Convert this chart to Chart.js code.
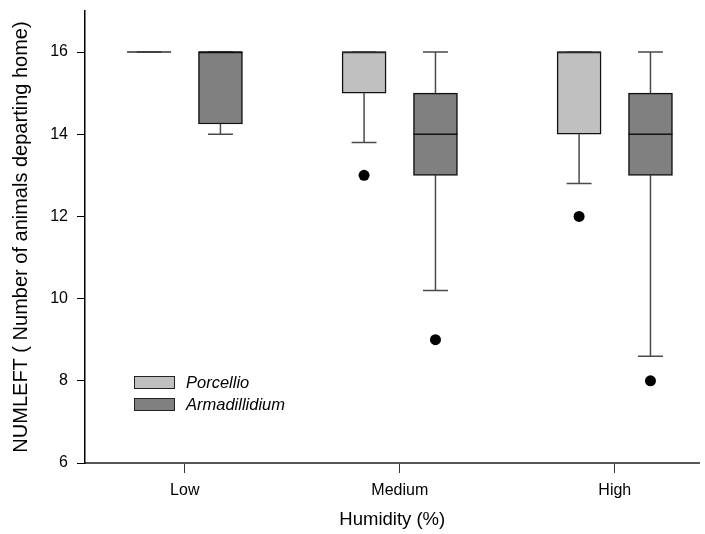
<!DOCTYPE html>
<html>
<head>
<meta charset="utf-8">
<script src="https://cdn.jsdelivr.net/npm/chart.js@4.4.1/dist/chart.umd.min.js"></script>
<style>
    html, body { margin: 0; padding: 0; background: #fff; overflow: hidden; }
    #wrap { width: 705px; height: 534px; position: relative; overflow: hidden; }
    #chart { display: block; }
</style>
</head>
<body>
<div id="wrap"><canvas id="chart"></canvas></div>
<script>
'use strict';

// humidity levels
const categories = ['Low', 'Medium', 'High'];

// Porcellio box stats
const porcMin = [16, 13.8, 12.8];
const porcQ1 = [16, 15, 14];
const porcMed = [16, 16, 16];
const porcQ3 = [16, 16, 16];
const porcMax = [16, 16, 16];
const porcOut = [[], [13], [12]];

// Armadillidium box stats
const armaMin = [14, 10.2, 8.6];
const armaQ1 = [14.25, 13, 13];
const armaMed = [16, 14, 14];
const armaQ3 = [16, 15, 15];
const armaMax = [16, 16, 16];
const armaOut = [[], [9], [8]];

const yTicks = [6, 8, 10, 12, 14, 16];

(function(){

    const SHIFT = 0.166;  // box centre offset from category
    const HALF = 0.1023;  // half box width (x units)
    const CAP = 0.058;    // half whisker cap width

    function centre(i, side) {
        return i + 1 + side * SHIFT;
    }

    function boxData(q1, q3, side) {
        return categories.map((c, i) => ({x: centre(i, side), y: [q1[i], q3[i]]}));
    }

    function whiskerData(lo, q1, q3, hi, side) {
        let pts = [];
        categories.forEach((c, i) => {
            let cx = centre(i, side);
            pts.push({x: cx, y: q3[i]}, {x: cx, y: hi[i]}, {x: cx, y: null});
            pts.push({x: cx - CAP, y: hi[i]}, {x: cx + CAP, y: hi[i]}, {x: cx, y: null});
            pts.push({x: cx, y: q1[i]}, {x: cx, y: lo[i]}, {x: cx, y: null});
            pts.push({x: cx - CAP, y: lo[i]}, {x: cx + CAP, y: lo[i]}, {x: cx, y: null});
        });
        return pts;
    }

    function medianData(med, side) {
        let pts = [];
        categories.forEach((c, i) => {
            let cx = centre(i, side);
            pts.push({x: cx - HALF, y: med[i]}, {x: cx + HALF, y: med[i]}, {x: cx, y: null});
        });
        return pts;
    }

    function outlierData(out, side) {
        let pts = [];
        out.forEach((list, i) => {
            for(let v of list) {
                pts.push({x: centre(i, side), y: v});
            }
        });
        return pts;
    }

    function boxSet(label, color, q1, q3, side) {
        return {
            type: 'bar', label: label, order: 1,
            data: boxData(q1, q3, side),
            backgroundColor: color, borderColor: '#111', borderWidth: 1.5,
            borderSkipped: false, grouped: false, barThickness: 44,
        };
    }

    function lineSet(data, color, width, order) {
        return {
            type: 'line', order: order, data: data,
            borderColor: color, borderWidth: width,
            pointRadius: 0, spanGaps: false, fill: false,
        };
    }

    function dotSet(data) {
        return {
            type: 'line', order: 0, data: data, showLine: false,
            pointRadius: 5.5, pointBackgroundColor: '#000', pointBorderWidth: 0,
        };
    }

    // legend drawn inside the plot, lower left
    const boxLegend = {
        id: 'boxLegend',
        afterDraw(chart) {
            let ctx = chart.ctx;
            let a = chart.chartArea;
            let items = chart.data.datasets.filter(d => d.type === 'bar');
            ctx.save();
            ctx.font = 'italic 16.5px "Liberation Sans", Arial, sans-serif';
            ctx.textBaseline = 'middle';
            items.forEach((d, k) => {
                let x = a.left + 49;
                let y = a.bottom - 87 + k * 22;
                ctx.fillStyle = d.backgroundColor;
                ctx.fillRect(x, y, 41, 13);
                ctx.strokeStyle = '#222';
                ctx.lineWidth = 1;
                ctx.strokeRect(x + 0.5, y + 0.5, 40, 12);
                ctx.fillStyle = '#000';
                ctx.fillText(d.label, x + 52, y + 7);
            });
            ctx.restore();
        }
    };

    // no extra room for edge labels
    function noPad(s) {
        s.paddingTop = 0;
        s.paddingBottom = 0;
        s.paddingLeft = 0;
        s.paddingRight = 0;
    }

    Chart.defaults.font.family = '"Liberation Sans", Arial, sans-serif';
    Chart.defaults.color = '#000';

    new Chart(document.getElementById('chart'), {
        type: 'bar',
        data: {
            datasets: [
                boxSet('Porcellio', '#c0c0c0', porcQ1, porcQ3, -1),
                boxSet('Armadillidium', '#808080', armaQ1, armaQ3, 1),
                lineSet(whiskerData(porcMin, porcQ1, porcQ3, porcMax, -1), '#4a4a4a', 1.5, 2),
                lineSet(whiskerData(armaMin, armaQ1, armaQ3, armaMax, 1), '#4a4a4a', 1.5, 2),
                lineSet(medianData(porcMed, -1), '#333', 1.5, 0),
                lineSet(medianData(armaMed, 1), '#111', 1.5, 0),
                dotSet(outlierData(porcOut, -1)),
                dotSet(outlierData(armaOut, 1)),
            ]
        },
        options: {
            responsive: true,
            maintainAspectRatio: false,
            animation: false,
            layout: {padding: {top: 11, right: 0, left: 0, bottom: 0}},
            plugins: {
                legend: {display: false},
                tooltip: {enabled: false},
            },
            scales: {
                x: {
                    type: 'linear',
                    min: 0.536, max: 3.394,
                    offset: false,
                    afterBuildTicks: s => { s.ticks = categories.map((c, i) => ({value: i + 1})); },
                    afterFit: s => { s.height = 71; noPad(s); },
                    ticks: {
                        callback: v => categories[v - 1],
                        font: {size: 16}, padding: 8, maxRotation: 0,
                    },
                    grid: {drawOnChartArea: false, offset: false, tickLength: 10, color: '#333', lineWidth: 1},
                    border: {display: true, color: '#555', width: 2},
                    title: {display: true, text: 'Humidity (%)', font: {size: 18.5}, padding: {top: 0, bottom: 3}},
                },
                y: {
                    min: 6, max: 17,
                    afterBuildTicks: s => { s.ticks = yTicks.map(v => ({value: v})); },
                    afterFit: s => { s.width = 85; noPad(s); },
                    ticks: {font: {size: 16}, padding: 9},
                    grid: {drawOnChartArea: false, tickLength: 8, color: '#000', lineWidth: 1},
                    border: {display: true, color: '#000', width: 1.5},
                    title: {display: true, text: 'NUMLEFT ( Number of animals departing home)', font: {size: 20}, padding: {top: 9, bottom: 0}},
                },
            },
        },
        plugins: [boxLegend],
    });
})();
</script>
</body>
</html>
